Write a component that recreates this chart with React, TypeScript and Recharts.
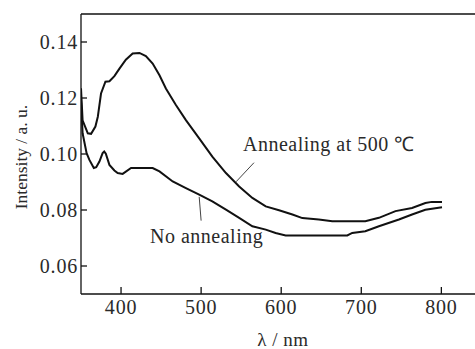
import React from "react";
import { LineChart, Line, XAxis, YAxis, ReferenceLine, ReferenceDot } from "recharts";

const annealedX = [350, 352, 358.5, 362.6, 368, 371, 375, 380.5, 385.5, 391.7, 398, 406, 414.5, 423, 431, 439.5, 448, 456, 468.5, 481, 497.6, 514, 531, 547.5, 564, 580.7, 597.3, 614, 626.4, 647, 663.8, 705, 722, 742.7, 763.4, 780, 788, 800.8];
const annealedY = [0.1235, 0.112, 0.1074, 0.1072, 0.1098, 0.1133, 0.1216, 0.1258, 0.126, 0.1278, 0.1305, 0.1337, 0.1359, 0.1361, 0.135, 0.1323, 0.1281, 0.1234, 0.1175, 0.1121, 0.1056, 0.0991, 0.0932, 0.0884, 0.0843, 0.0813, 0.0799, 0.0784, 0.0771, 0.0766, 0.076, 0.076, 0.0772, 0.0796, 0.0807, 0.0825, 0.0829, 0.0829];

const rawX = [350, 352, 357, 360.5, 366, 369, 373, 377, 379, 381, 385.5, 391.7, 395.8, 402, 412.5, 431, 439.5, 448, 464.5, 481, 497.6, 514, 531, 547.5, 564, 580.7, 593, 605.6, 663.8, 682.5, 688.7, 705, 722, 747, 763.4, 780, 800.8];
const rawY = [0.1193, 0.1074, 0.1003, 0.0979, 0.095, 0.0953, 0.0973, 0.1003, 0.1009, 0.1001, 0.0961, 0.0941, 0.0932, 0.0929, 0.095, 0.095, 0.095, 0.0938, 0.0902, 0.0878, 0.0855, 0.0831, 0.0801, 0.0772, 0.0742, 0.073, 0.0718, 0.0709, 0.0709, 0.0709, 0.0718, 0.0724, 0.0742, 0.0766, 0.0784, 0.0801, 0.081];

const xTicks = [400, 500, 600, 700, 800];
const yTicks = [0.06, 0.08, 0.1, 0.12, 0.14];

const annealedData = annealedX.map((x, i) => ({ x, y: annealedY[i] }));
const rawData = rawX.map((x, i) => ({ x, y: rawY[i] }));

const FONT = "'Liberation Serif', 'Times New Roman', serif";
const TEXT = "#2a2a2a";
const fs = { fontFamily: FONT };
const tickStyle = { fontFamily: FONT, letterSpacing: "0.8px" };
const annStyle = { fontFamily: FONT, letterSpacing: "0.5px" };

const YTitle = () => (
  <text x={21} y={157} transform="rotate(-90 21 157)" textAnchor="middle" dominantBaseline="central"
    style={fs} fontSize={17.5} fill={TEXT}>Intensity / a. u.</text>
);
const XTitle = () => (
  <text x={283} y={346} textAnchor="middle" style={annStyle} fontSize={19} fill={TEXT}>λ / nm</text>
);

export default function App() {
  return (
    <div style={{ position: "absolute", left: 0, top: 0, fontFamily: FONT }}>
      <LineChart width={475} height={349} margin={{ top: 14, right: 0, bottom: 25, left: 0 }} style={fs}>
        <XAxis dataKey="x" type="number" domain={[350, 842]} ticks={xTicks} allowDataOverflow
          stroke="#111" strokeWidth={1.3} tickSize={-7} tickMargin={13} height={30}
          tick={{ fill: TEXT, fontSize: 20, style: tickStyle }} label={<XTitle />} />
        <YAxis dataKey="y" type="number" domain={[0.05, 0.15]} ticks={yTicks} allowDataOverflow
          stroke="#111" strokeWidth={1.3} tickSize={-6} tickMargin={9} width={81}
          tickFormatter={(v: number) => v.toFixed(2)}
          tick={{ fill: TEXT, fontSize: 20, style: tickStyle }} label={<YTitle />} />
        <ReferenceLine y={0.15} stroke="#111" strokeWidth={1.3} />
        <Line data={annealedData} dataKey="y" stroke="#111" strokeWidth={2} dot={false} isAnimationActive={false} type="linear" />
        <Line data={rawData} dataKey="y" stroke="#111" strokeWidth={2} dot={false} isAnimationActive={false} type="linear" />
        <ReferenceLine segment={[{ x: 566, y: 0.0969 }, { x: 543.7, y: 0.0901 }]} stroke="#444" strokeWidth={1} />
        <ReferenceLine segment={[{ x: 497.6, y: 0.0847 }, { x: 500, y: 0.0762 }]} stroke="#444" strokeWidth={1} />
        <ReferenceDot x={659.6} y={0.1036} r={0} fill="none" stroke="none"
          label={{ value: "Annealing at 500 ℃", position: "center", fill: TEXT, fontSize: 20, style: annStyle }} />
        <ReferenceDot x={506.9} y={0.0709} r={0} fill="none" stroke="none"
          label={{ value: "No annealing", position: "center", fill: TEXT, fontSize: 20, style: annStyle }} />
      </LineChart>
    </div>
  );
}
